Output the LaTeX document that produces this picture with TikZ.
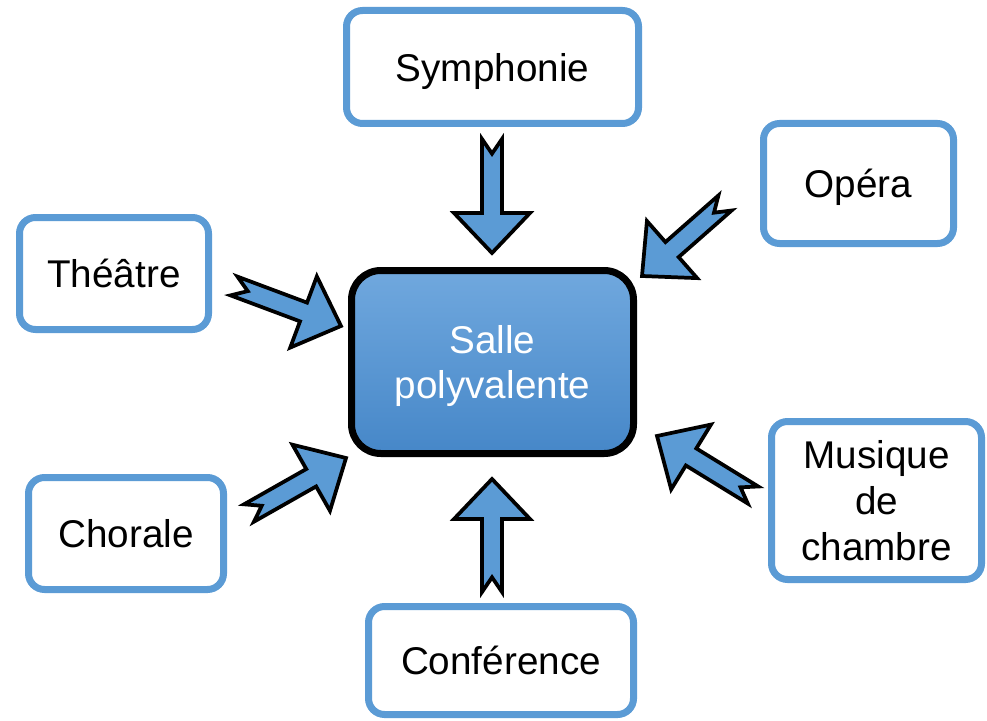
\documentclass[tikz,border=0pt]{standalone}
\usepackage{fontspec}
\setmainfont{Liberation Sans}
\usepackage{tikz}
\usetikzlibrary{calc}
\definecolor{BoxBlue}{RGB}{91,155,213}
\definecolor{TopBlue}{RGB}{112,168,222}
\definecolor{LowBlue}{RGB}{70,135,200}
\newcommand\notched[2]{%
  \coordinate (#1h) at ($(#2)!30pt!(#1)$);
  \draw[blockarrow] ($(#1)!7.5pt!90:(#2)$) -- ($(#1)!11pt!(#2)$) -- ($(#1)!7.5pt!-90:(#2)$)
    -- ($(#1h)!7.5pt!-90:(#2)$) -- ($(#1h)!28.5pt!-90:(#2)$) -- (#2)
    -- ($(#1h)!28.5pt!90:(#2)$) -- ($(#1h)!7.5pt!90:(#2)$) -- cycle;}

\begin{document}
\begin{tikzpicture}[x=0.75pt,y=-0.75pt,
  topic/.style={draw=BoxBlue,line width=5.25pt,fill=white,rounded corners=12pt,
    align=center,inner sep=0pt,text depth=0pt,font=\fontsize{29}{34.5}\selectfont},
  hall/.style={draw=black,line width=5.25pt,top color=TopBlue,bottom color=LowBlue,
    rounded corners=22pt,align=center,inner sep=0pt,text depth=0pt,text=white,
    font=\fontsize{29}{34}\selectfont},
  blockarrow/.style={draw=black,line width=2.8pt,fill=BoxBlue,line join=miter}]
\useasboundingbox (0,0) rectangle (987,720);

\node[hall,minimum width=211.5pt,minimum height=137.25pt] (salle) at (492.5,362) {Salle\\polyvalente};

\node[topic,minimum width=219pt,minimum height=84.75pt] (sym) at (492.5,67) {Symphonie};
\node[topic,minimum width=142.5pt,minimum height=90pt] (ope) at (858.5,183.5) {Opéra};
\node[topic,minimum width=141.75pt,minimum height=84pt] (the) at (114,273.5) {Théâtre};
\node[topic,minimum width=146.25pt,minimum height=84pt] (cho) at (126,533.5) {Chorale};
\node[topic,minimum width=198.75pt,minimum height=81pt] (con) at (501,660.5) {Conférence};
\node[topic,minimum width=157.5pt,minimum height=118.5pt] (mus) at (876.5,500.5) {Musique\\de\\chambre};

\coordinate (symT) at (492,139);   \coordinate (symP) at (492,253);
\coordinate (conT) at (492,592);   \coordinate (conP) at (492,479);
\coordinate (theT) at (234,286);   \coordinate (theP) at (341,326);
\coordinate (choT) at (249,513);   \coordinate (choP) at (346,458);
\coordinate (opeT) at (725,203);   \coordinate (opeP) at (642,276);
\coordinate (musT) at (753,495);   \coordinate (musP) at (657,436);

\notched{symT}{symP}
\notched{conT}{conP}
\notched{theT}{theP}
\notched{choT}{choP}
\notched{opeT}{opeP}
\notched{musT}{musP}
\end{tikzpicture}
\end{document}
